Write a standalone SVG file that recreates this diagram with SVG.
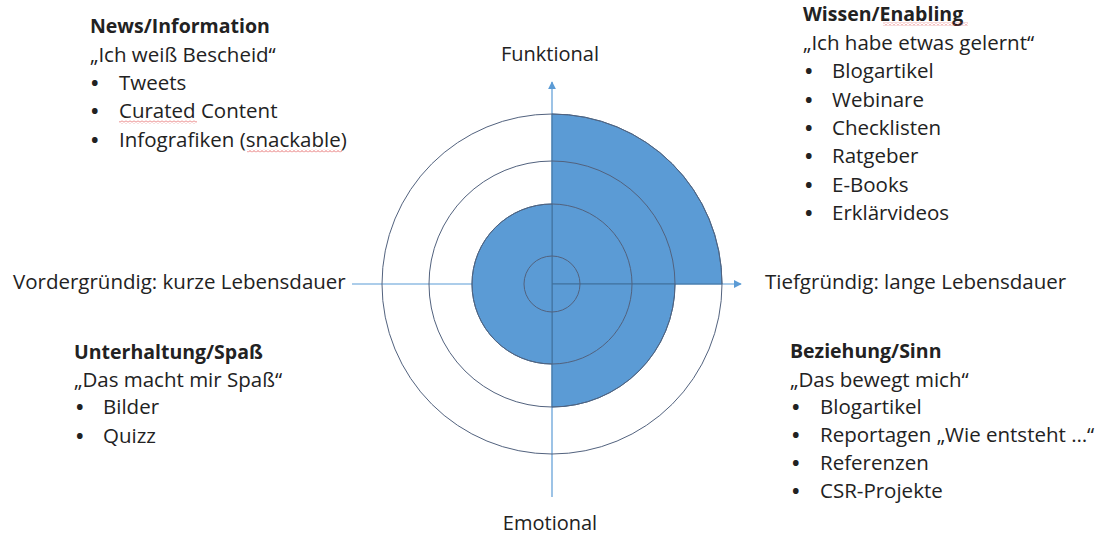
<svg xmlns="http://www.w3.org/2000/svg" width="1105" height="535" viewBox="0 0 1105 535">
  <style>
    text { font-family: "Open Sans", "Noto Sans", "Liberation Sans", sans-serif; font-size: 20.5px; fill: #222; }
    .head { font-weight: bold; font-size: 19.5px; }
    .bullet { font-weight: bold; font-size: 20px; }
    .axis-label { text-anchor: middle; font-size: 20px; }
    .axis { stroke: #5B9BD5; stroke-width: 1.2; fill: none; }
    .sector { fill: #5B9BD5; stroke: #41719C; stroke-width: 1; }
    .ring { fill: none; stroke: #52627e; stroke-width: 1; }
    .spell { fill: url(#wavy); }
  </style>
  <defs>
    <marker id="arrow" viewBox="0 0 10 10" refX="9" refY="5" markerWidth="8" markerHeight="8" markerUnits="userSpaceOnUse" orient="auto">
      <path d="M0,0 L10,5 L0,10 Z" fill="#5B9BD5"/>
    </marker>
    <pattern id="wavy" x="0" y="0" width="4" height="3" patternUnits="userSpaceOnUse">
      <path d="M0,2.5 L2,0.5 L4,2.5" fill="none" stroke="#e04848" stroke-width="0.8"/>
    </pattern>
  </defs>

  <!-- axes -->
  <g id="connectors">
    <line class="axis" x1="552" y1="497" x2="552" y2="82" marker-end="url(#arrow)"/>
    <line class="axis" x1="352" y1="284" x2="741" y2="284" marker-end="url(#arrow)"/>
  </g>

  <!-- filled value area -->
  <g id="value-area">
    <path class="sector" d="M552,284 L552,114 A170,170 0 0 1 722,284 Z"/>
    <path class="sector" d="M552,284 L675,284 A123,123 0 0 1 552,407 Z"/>
    <path class="sector" d="M552,204 A80,80 0 0 0 552,364 Z"/>
  </g>

  <!-- concentric rings -->
  <g id="rings">
    <circle class="ring" cx="552" cy="284" r="28"/>
    <circle class="ring" cx="552" cy="284" r="80"/>
    <circle class="ring" cx="552" cy="284" r="123"/>
    <circle class="ring" cx="552" cy="284" r="170"/>
  </g>

  <!-- axis labels -->
  <g id="label-top"><text class="axis-label" x="550" y="61">Funktional</text></g>
  <g id="label-bottom"><text class="axis-label" x="550" y="530">Emotional</text></g>
  <g id="label-left"><text x="13" y="289">Vordergründig: kurze Lebensdauer</text></g>
  <g id="label-right"><text x="765" y="289">Tiefgründig: lange Lebensdauer</text></g>

  <!-- quadrant: news -->
  <g id="news">
    <text class="head" x="90" y="33">News/Information</text>
    <text x="90" y="62">„Ich weiß Bescheid“</text>
    <text class="bullet" x="91" y="90">•</text><text x="119" y="90">Tweets</text>
    <text class="bullet" x="91" y="118">•</text><text x="119" y="118">Curated Content</text>
    <text class="bullet" x="91" y="147">•</text><text x="119" y="147">Infografiken (snackable)</text>
    <rect class="spell" x="119" y="120.5" width="78" height="3"/>
    <rect class="spell" x="247" y="149.5" width="95" height="3"/>
  </g>

  <!-- quadrant: knowledge -->
  <g id="wissen">
    <text class="head" x="803" y="21">Wissen/Enabling</text>
    <text x="803" y="50">„Ich habe etwas gelernt“</text>
    <text class="bullet" x="805" y="78">•</text><text x="832" y="78">Blogartikel</text>
    <text class="bullet" x="805" y="107">•</text><text x="832" y="107">Webinare</text>
    <text class="bullet" x="805" y="135">•</text><text x="832" y="135">Checklisten</text>
    <text class="bullet" x="805" y="163">•</text><text x="832" y="163">Ratgeber</text>
    <text class="bullet" x="805" y="192">•</text><text x="832" y="192">E-Books</text>
    <text class="bullet" x="805" y="220">•</text><text x="832" y="220">Erklärvideos</text>
    <rect class="spell" x="883" y="22.5" width="85" height="3"/>
  </g>

  <!-- quadrant: entertainment -->
  <g id="unterhaltung">
    <text class="head" x="74" y="359">Unterhaltung/Spaß</text>
    <text x="74" y="387">„Das macht mir Spaß“</text>
    <text class="bullet" x="76" y="414">•</text><text x="103" y="414">Bilder</text>
    <text class="bullet" x="76" y="443">•</text><text x="103" y="443">Quizz</text>
  </g>

  <!-- quadrant: relationship -->
  <g id="beziehung">
    <text class="head" x="790" y="358">Beziehung/Sinn</text>
    <text x="790" y="387">„Das bewegt mich“</text>
    <text class="bullet" x="792" y="414">•</text><text x="820" y="414">Blogartikel</text>
    <text class="bullet" x="792" y="442">•</text><text x="820" y="442">Reportagen „Wie entsteht …“</text>
    <text class="bullet" x="792" y="470">•</text><text x="820" y="470">Referenzen</text>
    <text class="bullet" x="792" y="498">•</text><text x="820" y="498">CSR-Projekte</text>
  </g>
</svg>
